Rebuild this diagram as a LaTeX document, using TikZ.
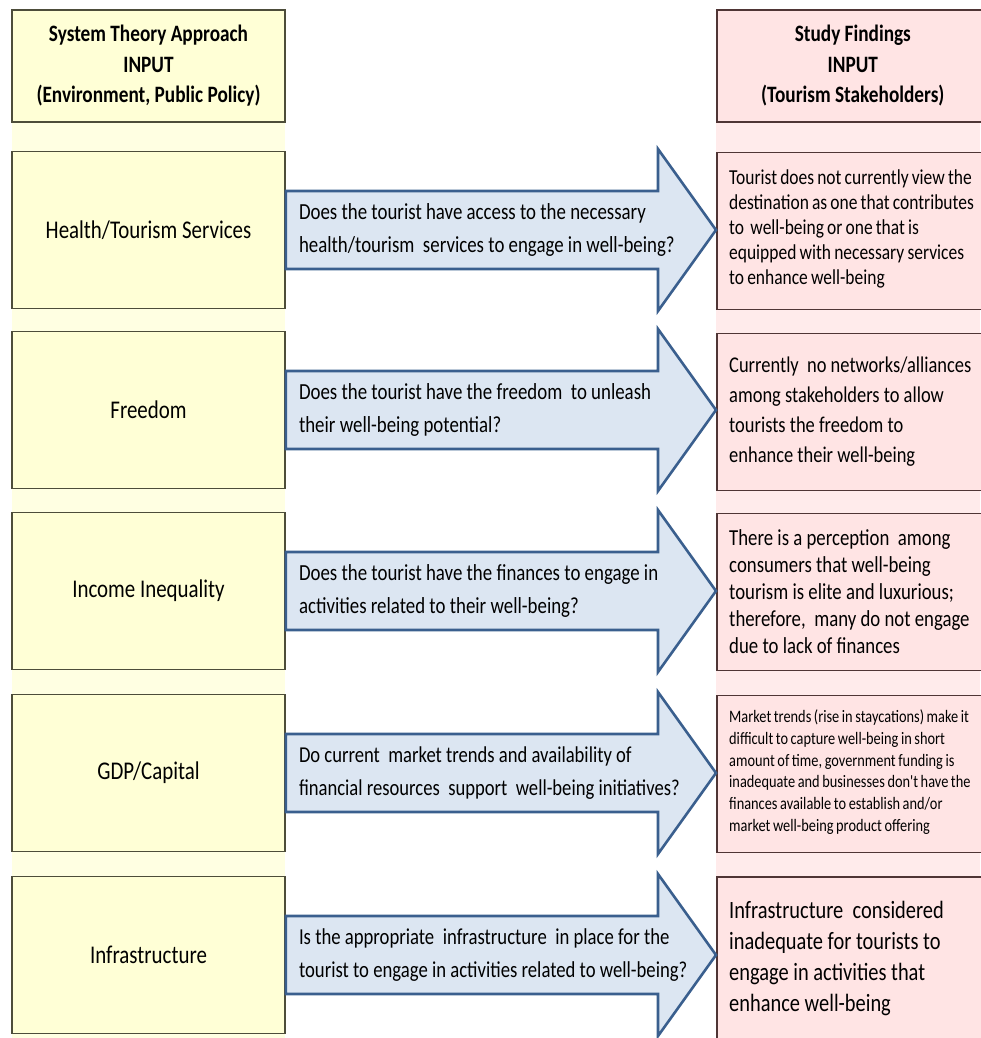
\documentclass[tikz,border=0pt]{standalone}
\usepackage{fontspec}
\setmainfont[FakeStretch=0.82]{Carlito}
\newfontfamily\tightfont[FakeStretch=0.82,WordSpace=0.8]{Carlito}
\usetikzlibrary{calc}
\definecolor{sysfill}{HTML}{FFFFD6}
\definecolor{sysback}{HTML}{FFFFE2}
\definecolor{sysline}{HTML}{4D4D3A}
\definecolor{findfill}{HTML}{FFE4E4}
\definecolor{findback}{HTML}{FFEBEB}
\definecolor{findline}{HTML}{4F3535}
\definecolor{askfill}{HTML}{DCE6F2}
\definecolor{askline}{HTML}{3A5F8E}

\begin{document}
\begin{tikzpicture}[x=1pt,y=-1pt,
  sysbox/.style={draw=sysline,line width=1.6pt,fill=sysfill,minimum width=273pt,
    minimum height=157pt,inner sep=0pt,align=center,font=\fontsize{25.5}{28}\selectfont},
  findbox/.style={draw=findline,line width=1.6pt,fill=findfill,minimum width=272pt,
    minimum height=157pt,anchor=west,inner sep=0pt},
  findtext/.style={anchor=west,align=left,inner sep=0pt},
  headbox/.style={minimum height=112pt,font=\bfseries\fontsize{23.5}{30.5}\selectfont},
  askarrow/.style={draw=askline,line width=2.6pt,fill=askfill,line join=miter},
  asktext/.style={anchor=west,align=left,inner sep=0pt,font=\fontsize{23}{33.5}\selectfont}]
  \useasboundingbox (0,0) rectangle (980,1038);
  \fill[sysback] (12,122) rectangle (285,1038);
  \fill[findback] (716,122) rectangle (980,1038);

  \node[sysbox,headbox] (sys0) at (148.5,66) {System Theory Approach\\INPUT\\(Environment, Public Policy)};
  \node[findbox,headbox,align=center] (find0) at (716,66)
    {Study Findings\\INPUT\\(Tourism Stakeholders)};

  \node[sysbox] (sys1) at (148.5,230) {Health/Tourism Services};
  \node[sysbox] (sys2) at (148.5,410) {Freedom};
  \node[sysbox] (sys3) at (148.5,591) {Income Inequality};
  \node[sysbox] (sys4) at (148.5,773) {GDP/Capital};
  \node[sysbox] (sys5) at (148.5,955) {Infrastructure};

  \node[findbox] (find1) at (716,231) {};
  \node[findbox] (find2) at (716,412) {};
  \node[findbox] (find3) at (716,592) {};
  \node[findbox] (find4) at (716,774) {};
  \node[findbox,minimum height=162pt] (find5) at (716,958) {};

  \node[findtext,font=\tightfont\fontsize{21.3}{25}\selectfont] (note1) at ($(find1.west)+(13,-2)$)
    {Tourist does not currently view the\\destination as one that contributes\\to\ \ well-being or one that is\\equipped with necessary services\\to enhance well-being};
  \node[findtext,font=\fontsize{22.5}{30}\selectfont] (note2) at ($(find2.west)+(13,0)$)
    {Currently\ \ no networks/alliances\\among stakeholders to allow\\tourists the freedom to\\enhance their well-being};
  \node[findtext,font=\fontsize{22.9}{27}\selectfont] (note3) at ($(find3.west)+(13,0)$)
    {There is a perception\ \ among\\consumers that well-being\\tourism is elite and luxurious;\\therefore,\ \ many do not engage\\due to lack of finances};
  \node[findtext,font=\tightfont\fontsize{17.5}{21.8}\selectfont] (note4) at ($(find4.west)+(13,-2)$)
    {Market trends (rise in staycations) make it\\difficult to capture well-being in short\\amount of time, government funding is\\inadequate and businesses don't have the\\finances available to establish and/or\\market well-being product offering};
  \node[findtext,font=\fontsize{24.9}{31}\selectfont] (note5) at ($(find5.west)+(13,0)$)
    {Infrastructure\ \ considered\\inadequate for tourists to\\engage in activities that\\enhance well-being};

  \foreach \i in {1,...,5}
    \draw[askarrow] ($(sys\i.east)+(0,-39)$) -- ($(sys\i.east-|find\i.west)+(-58,-39)$)
      -- ($(sys\i.east-|find\i.west)+(-58,-81)$) -- (sys\i.east-|find\i.west)
      -- ($(sys\i.east-|find\i.west)+(-58,81)$) -- ($(sys\i.east-|find\i.west)+(-58,39)$)
      -- ($(sys\i.east)+(0,39)$) -- cycle;

  \node[asktext] (ask1) at ($(sys1.east)+(13,0)$) {Does the tourist have access to the necessary\\health/tourism\ \ services to engage in well-being?};
  \node[asktext] (ask2) at ($(sys2.east)+(13,0)$) {Does the tourist have the freedom\ \ to unleash\\their well-being potential?};
  \node[asktext] (ask3) at ($(sys3.east)+(13,0)$) {Does the tourist have the finances to engage in\\activities related to their well-being?};
  \node[asktext,font=\fontsize{22.7}{33.5}\selectfont] (ask4) at ($(sys4.east)+(13,0)$) {Do current\ \ market trends and availability of\\financial resources\ \ support\ \ well-being initiatives?};
  \node[asktext,font=\fontsize{22.8}{33.5}\selectfont] (ask5) at ($(sys5.east)+(13,0)$) {Is the appropriate\ \ infrastructure\ \ in place for the\\tourist to engage in activities related to well-being?};
\end{tikzpicture}
\end{document}
